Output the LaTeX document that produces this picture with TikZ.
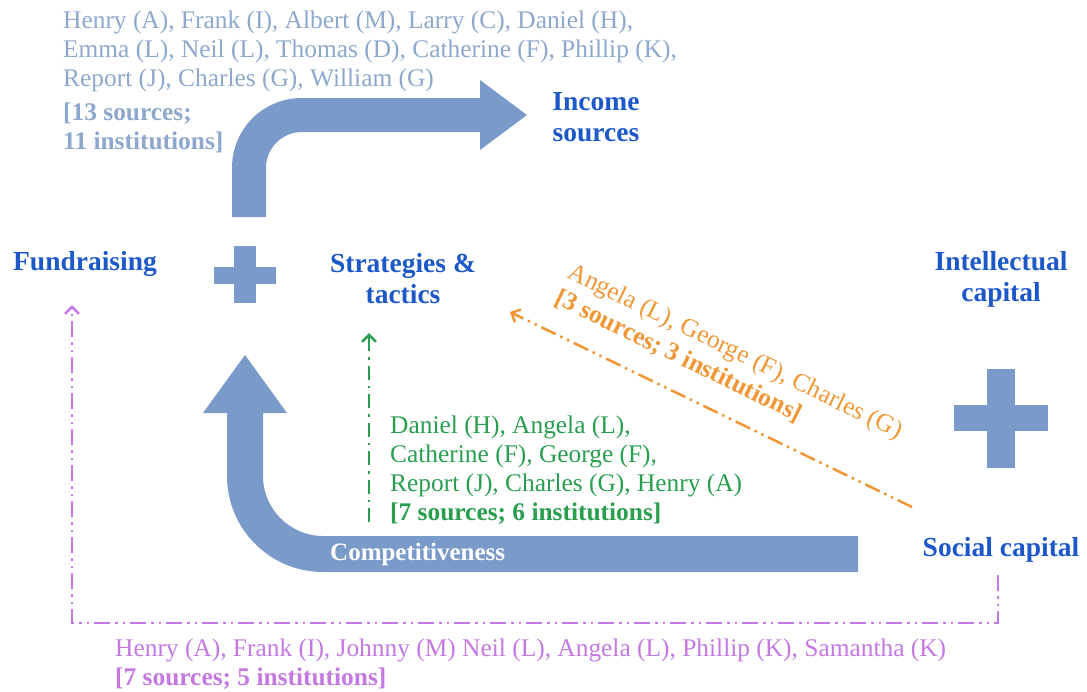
\documentclass[tikz,border=0pt]{standalone}
\usepackage{fontspec}
\setmainfont{Liberation Serif}
\usetikzlibrary{arrows.meta}

\definecolor{arrowblue}{RGB}{122,155,201}
\definecolor{headblue}{RGB}{28,88,200}
\definecolor{greyblue}{RGB}{141,168,204}
\definecolor{linkgreen}{RGB}{40,158,78}
\definecolor{linkorange}{RGB}{240,150,52}
\definecolor{linkpurple}{RGB}{196,120,226}

\tikzset{
  heading/.style={font=\fontsize{27.5}{31}\selectfont\bfseries, text=headblue, align=center, inner sep=0pt},
  names/.style={font=\fontsize{25.4}{29}\selectfont, align=left, inner sep=0pt},
  dashdot/.style={line width=2.5pt, dash pattern=on 14pt off 6pt on 2.5pt off 6pt},
  dashdotdot/.style={line width=2.5pt, dash pattern=on 16pt off 5pt on 2.5pt off 5pt on 2.5pt off 5pt},
  barb/.style={-{Straight Barb[length=7pt,width=14pt]}}
}

\begin{document}
\begin{tikzpicture}[x=1pt,y=-1pt]
    \useasboundingbox (0,0) rectangle (1087,691);

    \fill[arrowblue] (232,217) -- (232,168) .. controls (232,129) and (263,98) .. (302,98) -- (480,98) -- (480,80) -- (527,115) -- (480,150) -- (480,132) -- (302,132) .. controls (282,132) and (266,148) .. (266,168) -- (266,217) -- cycle; %top arrow
    \fill[arrowblue] (858,572) -- (323,572) .. controls (270,572) and (227,529) .. (227,476) -- (227,413) -- (203,413) -- (245,355) -- (287,413) -- (263,413) -- (263,476) .. controls (263,509) and (290,536) .. (323,536) -- (858,536) -- cycle; %bottom arrow

    \fill[arrowblue] (234,246) rectangle (256,303);
    \fill[arrowblue] (214,267) rectangle (276,284);
    \fill[arrowblue] (987,369) rectangle (1015,468);
    \fill[arrowblue] (954,405) rectangle (1048,431);

    \node[heading] (income) at (596,117) {Income\\sources};
    \node[heading] (fund) at (85,264) {Fundraising};
    \node[heading] (strat) at (403,279) {Strategies \&\\tactics};
    \node[heading] (intel) at (1001,279) {Intellectual\\capital};
    \node[heading] (social) at (1001,550) {Social capital};
    \node[font=\fontsize{25}{29}\selectfont\bfseries, text=white, anchor=west, inner sep=0pt] (compet) at (330,554) {Competitiveness};

    \node[names, text=greyblue, anchor=north west] (topnames) at (63,11) {Henry (A), Frank (I), Albert (M), Larry (C), Daniel (H),\\Emma (L), Neil (L), Thomas (D), Catherine (F), Phillip (K),\\Report (J), Charles (G), William (G)\\[5pt]\textbf{[13 sources;}\\\textbf{11 institutions]}};
    \node[names, text=linkgreen, anchor=north west] (greennames) at (390,416) {Daniel (H), Angela (L),\\Catherine (F), George (F),\\Report (J), Charles (G), Henry (A)\\\textbf{[7 sources; 6 institutions]}};
    \node[names, text=linkorange, anchor=west, rotate=-26] (orangenames) at (563,284) {Angela (L), George (F), Charles (G)\\\textbf{[3 sources; 3 institutions]}};
    \node[names, text=linkpurple, anchor=north west] (purplenames) at (115,639) {Henry (A), Frank (I), Johnny (M) Neil (L), Angela (L), Phillip (K), Samantha (K)\\\textbf{[7 sources; 5 institutions]}};

    \coordinate (gstart) at (369,522);
    \coordinate (gend) at (369,333);
    \draw[linkgreen, dashdot, barb] (gstart) -- (gend); %green
    \coordinate (ostart) at (912,507);
    \coordinate (oend) at (510,312);
    \draw[linkorange, dashdotdot, barb] (ostart) -- (oend); %orange
    \coordinate (pstart) at (998,575);
    \coordinate (pend) at (72,305);
    \draw[linkpurple, dashdotdot, barb] (pstart) -- ++(0,48) -| (pend); %purple
\end{tikzpicture}
\end{document}
